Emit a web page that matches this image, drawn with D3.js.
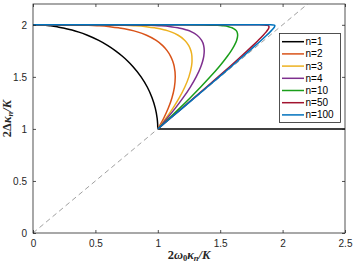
<!DOCTYPE html>
<html>
<head>
<meta charset="utf-8">
<script src="https://cdn.jsdelivr.net/npm/d3@7"></script>
<style>
body{margin:0;background:#fff}
svg{display:block;font-family:"Liberation Sans",Arial,sans-serif}
</style>
</head>
<body>
<div class="plot"></div>
<script>
// values
let labels=['n=1','n=2','n=3','n=4','n=10','n=50','n=100']
let colors=['#000000','#D95319','#EDB120','#7E2F8E','#1a9e1a','#A2142F','#0072BD']
let yVals=[1,1.05,1.1,1.2,1.3,1.4,1.5,1.6,1.65,1.7,1.75,1.8,1.85,1.9,1.93,1.95,1.97,1.98,1.99,1.995,1.999,1.9999,2]
let xN1=[1,.9987,.995,.9798,.9539,.9165,.866,.8,.7599,.7141,.6614,.6,.5268,.4359,.3676,.3122,.2431,.199,.1411,.0999,.0447,.0141,0]
let xN2=[1,1.0241,1.0462,1.0843,1.1136,1.1328,1.1398,1.1314,1.1198,1.1018,1.0759,1.0392,.9872,.9101,.8424,.7803,.6921,.6277,.5298,.4464,.299,.1682,0]
let xN3=[1,1.0326,1.0638,1.1216,1.1726,1.2156,1.249,1.2699,1.2742,1.2732,1.2653,1.2481,1.2171,1.1631,1.1106,1.0589,.9809,.9206,.8236,.7353,.5632,.3838,0]
let xN4=[1,1.037,1.0728,1.1407,1.2032,1.2593,1.3075,1.3454,1.3593,1.3686,1.3721,1.3677,1.3514,1.315,1.2751,1.2336,1.1677,1.1149,1.0269,.9437,.7731,.5799,0]
let xN10=[1,1.0448,1.089,1.1759,1.2604,1.3419,1.4198,1.4929,1.5269,1.5588,1.5878,1.6127,1.6316,1.6399,1.6351,1.6236,1.5981,1.5736,1.5273,1.4788,1.367,1.2189,0]
let xN50=[1,1.049,1.0978,1.1951,1.292,1.3882,1.4836,1.578,1.6246,1.6708,1.7163,1.7609,1.8041,1.8449,1.867,1.8799,1.8893,1.8911,1.8874,1.879,1.8527,1.8113,0]
let xN100=[1,1.0495,1.0989,1.1976,1.296,1.3941,1.4918,1.589,1.6373,1.6853,1.7331,1.7803,1.8269,1.8722,1.8983,1.9146,1.9292,1.935,1.938,1.9362,1.9245,1.9033,0]
let flatX=[1,2.5], flatY=[1,1]
let diagX=[0,2.2], diagY=[0,2.2]
let xTicks=[0,0.5,1,1.5,2,2.5]
let yTicks=[0,0.5,1,1.5,2]

let w=353, h=263
let padL=33, padR=345, padT=4, padB=233
let xScale=d3.scaleLinear().domain([0,2.5]).range([padL,padR])
let yScale=d3.scaleLinear().domain([0,2.2]).range([padB,padT])

let svg=d3.select('.plot').append('svg').attr('width',w).attr('height',h)

let fmt=d=>String(d)
let xAxis=d3.axisBottom(xScale).tickValues(xTicks).tickFormat(fmt).tickSizeInner(-3).tickSizeOuter(0).tickPadding(7)
let yAxis=d3.axisLeft(yScale).tickValues(yTicks).tickFormat(fmt).tickSizeInner(-3).tickSizeOuter(0).tickPadding(6)
let xTop=d3.axisTop(xScale).tickValues(xTicks).tickFormat('').tickSizeInner(-3).tickSizeOuter(0)
let yRight=d3.axisRight(yScale).tickValues(yTicks).tickFormat('').tickSizeInner(-3).tickSizeOuter(0)

let line=d3.line().x(d=>xScale(d[0])).y(d=>yScale(d[1]))
let curve=d3.line().x(d=>xScale(d[0])).y(d=>yScale(d[1])).curve(d3.curveMonotoneY)

svg.append('defs').append('clipPath').attr('id','clip').append('rect')
  .attr('x',padL).attr('y',padT).attr('width',padR-padL).attr('height',padB-padT)

let plot=svg.append('g').attr('clip-path','url(#clip)')
plot.append('path').datum(diagX.map((x,i)=>[x,diagY[i]]))
  .attr('d',line).attr('fill','none').attr('stroke','#a0a0a0').attr('stroke-width',1).attr('stroke-dasharray','5,3.5')
plot.append('path').datum(flatX.map((x,i)=>[x,flatY[i]]))
  .attr('d',line).attr('fill','none').attr('stroke','#000').attr('stroke-width',1.5)

let series=[xN1,xN2,xN3,xN4,xN10,xN50,xN100]
series.forEach((xs,k)=>{
  plot.append('path').datum(xs.map((x,i)=>[x,yVals[i]]))
    .attr('d',curve).attr('fill','none').attr('stroke',colors[k]).attr('stroke-width',1.5)
})

// box and ticks
svg.append('rect').attr('x',padL).attr('y',padT).attr('width',padR-padL).attr('height',padB-padT)
  .attr('fill','none').attr('stroke','#262626').attr('stroke-width',0.8)
svg.append('g').attr('transform','translate(0,'+padB+')').call(xAxis)
svg.append('g').attr('transform','translate('+padL+',0)').call(yAxis)
svg.append('g').attr('transform','translate(0,'+padT+')').call(xTop)
svg.append('g').attr('transform','translate('+padR+',0)').call(yRight)
svg.selectAll('.domain').remove()
svg.selectAll('.tick line').attr('stroke','#262626').attr('stroke-width',0.8)
svg.selectAll('.tick text').attr('fill','#262626').attr('font-size',10).attr('font-family','"Liberation Sans",Arial,sans-serif')

// axis labels
let xl=svg.append('text').attr('x',(padL+padR)/2).attr('y',259).attr('text-anchor','middle')
  .attr('font-family','"Liberation Serif","Times New Roman",serif').attr('font-size',12.5).attr('font-weight','bold').attr('fill','#262626')
xl.append('tspan').text('2')
xl.append('tspan').attr('font-style','italic').text('ω')
xl.append('tspan').attr('font-size',8.5).attr('dy',2).text('0')
xl.append('tspan').attr('font-style','italic').attr('dy',-2).text('κ')
xl.append('tspan').attr('font-style','italic').attr('font-size',8.5).attr('dy',2).text('n')
xl.append('tspan').attr('font-style','italic').attr('dy',-2).text('/K')

let yl=svg.append('text').attr('transform','translate(11,'+((padT+padB)/2)+') rotate(-90)').attr('text-anchor','middle')
  .attr('font-family','"Liberation Serif","Times New Roman",serif').attr('font-size',12.5).attr('font-weight','bold').attr('fill','#262626')
yl.append('tspan').text('2Δ')
yl.append('tspan').attr('font-style','italic').text('κ')
yl.append('tspan').attr('font-style','italic').attr('font-size',8.5).attr('dy',2).text('n')
yl.append('tspan').attr('font-style','italic').attr('dy',-2).text('/K')

// legend
let lg=svg.append('g')
lg.append('rect').attr('x',279.5).attr('y',33.5).attr('width',61).attr('height',89)
  .attr('fill','#fff').attr('stroke','#262626').attr('stroke-width',0.8)
labels.forEach((t,i)=>{
  let y=41.7+i*12.2
  lg.append('line').attr('x1',282).attr('x2',304).attr('y1',y).attr('y2',y).attr('stroke',colors[i]).attr('stroke-width',1.5)
  lg.append('text').attr('x',305.5).attr('y',y).attr('dy','0.35em').attr('font-size',10).attr('fill','#000').text(t)
})
</script>
</body>
</html>
